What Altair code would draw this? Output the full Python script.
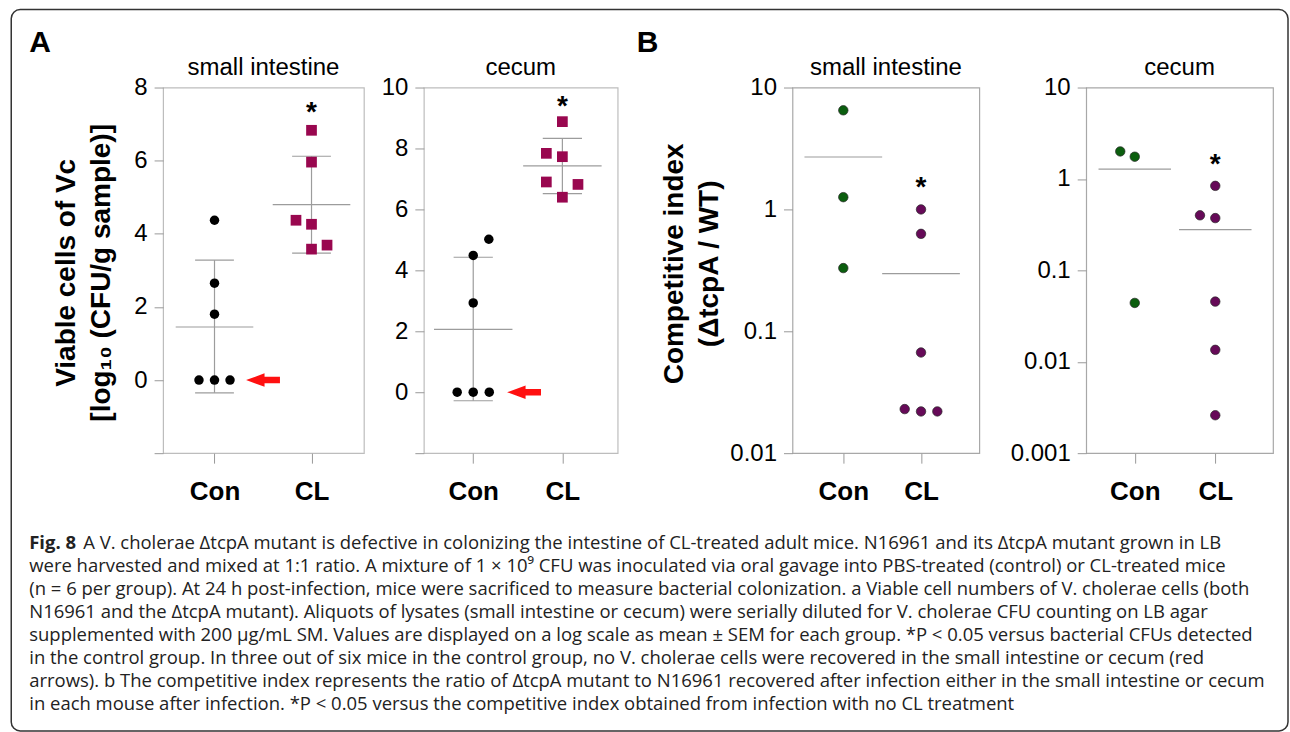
import altair as alt
import pandas as pd

# ---------------- data ----------------
groups = ["Con", "CL"]

# Panel A - small intestine (log10 CFU/g)
a_si_con = [0, 0, 0, 1.80, 2.65, 4.37]
a_si_con_jit = [-0.16, 0, 0.16, 0, 0, 0]
a_si_cl = [6.83, 5.96, 4.37, 4.26, 3.69, 3.58]
a_si_cl_jit = [0, 0, -0.16, 0, 0.16, 0]
a_si_mean = [1.45, 4.80]
a_si_lo = [-0.35, 3.47]
a_si_hi = [3.28, 6.12]
a_si_star = 7.5
a_si_arrow = [1.5, 0]

# Panel A - cecum
a_ce_con = [0, 0, 0, 2.93, 4.49, 5.02]
a_ce_con_jit = [-0.18, 0, 0.18, 0, 0, 0.175]
a_ce_cl = [8.88, 7.84, 7.73, 6.90, 6.82, 6.40]
a_ce_cl_jit = [0, -0.18, 0, -0.18, 0.175, 0]
a_ce_mean = [2.06, 7.43]
a_ce_lo = [-0.28, 6.52]
a_ce_hi = [4.43, 8.33]
a_ce_star = 9.6
a_ce_arrow = [1.57, 0]

# Panel B - small intestine (competitive index)
b_si_con = [6.5, 1.26, 0.33]
b_si_con_jit = [0, 0, 0]
b_si_cl = [1.0, 0.63, 0.067, 0.023, 0.022, 0.022]
b_si_cl_jit = [0, 0, 0, -0.21, 0, 0.21]
b_si_mean = [2.69, 0.297]
b_si_star = 1.71

# Panel B - cecum
b_ce_con = [2.0, 1.75, 0.044]
b_ce_con_jit = [-0.18, 0, 0]
b_ce_cl = [0.84, 0.40, 0.373, 0.0455, 0.0135, 0.0026]
b_ce_cl_jit = [0, -0.19, 0, 0, 0, 0]
b_ce_mean = [1.28, 0.279]
b_ce_star = 1.70

a_ticks_si = [-2, 0, 2, 4, 6, 8]
a_ticks_ce = [-2, 0, 2, 4, 6, 8, 10]
b_ticks_si = [0.01, 0.1, 1, 10]
b_ticks_ce = [0.001, 0.01, 0.1, 1, 10]

caption_head = "Fig. 8"
caption_first = "A V. cholerae \u0394tcpA mutant is defective in colonizing the intestine of CL-treated adult mice. N16961 and its \u0394tcpA mutant grown in LB"
caption_rest = [
    "were harvested and mixed at 1:1 ratio. A mixture of 1 \u00d7 10\u2079 CFU was inoculated via oral gavage into PBS-treated (control) or CL-treated mice",
    "(n = 6 per group). At 24 h post-infection, mice were sacrificed to measure bacterial colonization. a Viable cell numbers of V. cholerae cells (both",
    "N16961 and the \u0394tcpA mutant). Aliquots of lysates (small intestine or cecum) were serially diluted for V. cholerae CFU counting on LB agar",
    "supplemented with 200 \u03bcg/mL SM. Values are displayed on a log scale as mean \u00b1 SEM for each group. *P < 0.05 versus bacterial CFUs detected",
    "in the control group. In three out of six mice in the control group, no V. cholerae cells were recovered in the small intestine or cecum (red",
    "arrows). b The competitive index represents the ratio of \u0394tcpA mutant to N16961 recovered after infection either in the small intestine or cecum",
    "in each mouse after infection. *P < 0.05 versus the competitive index obtained from infection with no CL treatment",
]

FONT = "Liberation Sans"
CAP_FONT = "Open Sans"
CAP_SIZE = 18.5
H = 366
one = pd.DataFrame({"k": [0]})


def points_df(con, con_j, cl, cl_j):
    rows = [{"grp": groups[0], "x": 1 + j, "y": v} for v, j in zip(con, con_j)]
    rows += [{"grp": groups[1], "x": 2 + j, "y": v} for v, j in zip(cl, cl_j)]
    return pd.DataFrame(rows)


def rules_df(mean, mean_hw, lo=None, hi=None, cap_hw=0.2):
    rows = []
    for i in range(2):
        g = i + 1
        rows.append({"x": g - mean_hw, "x2": g + mean_hw, "y": mean[i], "y2": mean[i]})
        if lo is not None:
            rows.append({"x": g, "x2": g, "y": lo[i], "y2": hi[i]})
            rows.append({"x": g - cap_hw, "x2": g + cap_hw, "y": lo[i], "y2": lo[i]})
            rows.append({"x": g - cap_hw, "x2": g + cap_hw, "y": hi[i], "y2": hi[i]})
    return pd.DataFrame(rows)


def make_panel(title, width, xdom, ydom, yticks, log, pts, rules, star,
               colors, shapes, sizes, frame_color, ytitle=None, ytitle_x=0,
               ytitle_y=183, arrow=None, extra=None, pt_stroke=None):
    xs = alt.Scale(domain=xdom, nice=False, zero=False)
    if log:
        ys = alt.Scale(type="log", domain=ydom, nice=False)
    else:
        ys = alt.Scale(domain=ydom, nice=False, zero=False)
    xaxis = alt.Axis(
        values=[1, 2],
        labelExpr=f"datum.value == 1 ? '{groups[0]}' : '{groups[1]}'",
        title="", grid=False, domain=False, tickSize=10, tickColor="#999999",
        labelPadding=15, labelFont=FONT, labelFontSize=26, labelFontWeight="bold",
        labelColor="black",
    )
    yk = dict(values=yticks, grid=False, domain=False, tickSize=9, tickColor="#999999",
              labelPadding=7, labelFont=FONT, labelFontSize=24, labelColor="black")
    if log:
        yk["format"] = "~g"
    else:
        yk["labelExpr"] = "datum.value < 0 ? '' : datum.label"
    if ytitle:
        yk.update(title=ytitle, titleFont=FONT, titleFontSize=28, titleFontWeight="bold",
                  titleColor="black", titleAngle=270, titleBaseline="alphabetic",
                  titleAlign="center", titleX=ytitle_x, titleY=ytitle_y, titleLineHeight=35)
    else:
        yk["title"] = ""
    yaxis = alt.Axis(**yk)

    rule_layer = alt.Chart(rules).mark_rule(color="#9c9c9c", strokeWidth=1.2).encode(
        x=alt.X("x:Q", scale=xs, axis=xaxis), x2="x2:Q",
        y=alt.Y("y:Q", scale=ys, axis=yaxis), y2="y2:Q",
    )
    mk = dict(filled=True, opacity=1)
    if pt_stroke:
        mk.update(stroke=pt_stroke, strokeWidth=0.7)
    pt_layer = alt.Chart(pts).mark_point(**mk).encode(
        x=alt.X("x:Q", scale=xs, axis=xaxis),
        y=alt.Y("y:Q", scale=ys, axis=yaxis),
        color=alt.Color("grp:N", scale=alt.Scale(domain=groups, range=colors), legend=None),
        shape=alt.Shape("grp:N", scale=alt.Scale(domain=groups, range=shapes), legend=None),
        size=alt.Size("grp:N", scale=alt.Scale(domain=groups, range=sizes), legend=None),
    )
    star_layer = alt.Chart(pd.DataFrame({"x": [2], "y": [star]})).mark_text(
        text="*", font=FONT, fontSize=28, fontWeight="bold", color="black",
        baseline="middle", dy=7,
    ).encode(x=alt.X("x:Q", scale=xs, axis=xaxis), y=alt.Y("y:Q", scale=ys, axis=yaxis))
    title_layer = alt.Chart(one).mark_text(
        text=title, font=FONT, fontSize=24, color="black", align="center",
        baseline="alphabetic",
    ).encode(x=alt.value(width / 2), y=alt.value(-13))
    layers = []
    if extra:
        layers += extra
    layers += [title_layer, rule_layer, pt_layer, star_layer]
    if arrow is not None:
        arrow_path = "M-1,0L0.09,-0.4L0.09,-0.19L1,-0.19L1,0.19L0.09,0.19L0.09,0.4Z"
        layers.append(
            alt.Chart(pd.DataFrame({"x": [arrow[0]], "y": [arrow[1]]})).mark_point(
                shape=arrow_path, filled=True, color="#ff1010", size=1150, opacity=1
            ).encode(x=alt.X("x:Q", scale=xs, axis=xaxis), y=alt.Y("y:Q", scale=ys, axis=yaxis))
        )
    return alt.layer(*layers).properties(
        width=width, height=H,
        view=alt.ViewBackground(stroke=frame_color, strokeWidth=1.2),
    )


# decorations attached to the first panel (outer frame, caption, panel letters)
frame = alt.Chart(one).mark_rect(
    fillOpacity=0, stroke="#333333", strokeWidth=1.5, cornerRadius=9
).encode(x=alt.value(-152), x2=alt.value(1126), y=alt.value(-78), y2=alt.value(644))
cap_head = alt.Chart(one).mark_text(
    text=caption_head, align="left", baseline="alphabetic", font=CAP_FONT,
    fontSize=CAP_SIZE, fontWeight="bold", color="#222222",
).encode(x=alt.value(-134), y=alt.value(462))
cap_first = alt.Chart(one).mark_text(
    text=caption_first, align="left", baseline="alphabetic", font=CAP_FONT,
    fontSize=CAP_SIZE, color="#222222",
).encode(x=alt.value(-80), y=alt.value(462))
cap_rest = alt.Chart(one).mark_text(
    text=caption_rest, align="left", baseline="alphabetic", font=CAP_FONT,
    fontSize=CAP_SIZE, lineHeight=23, color="#222222",
).encode(x=alt.value(-134), y=alt.value(485))
letter_a = alt.Chart(one).mark_text(
    text="A", align="left", baseline="alphabetic", font=FONT, fontSize=30,
    fontWeight="bold", color="black",
).encode(x=alt.value(-134), y=alt.value(-36))
letter_b = alt.Chart(one).mark_text(
    text="B", align="left", baseline="alphabetic", font=FONT, fontSize=30,
    fontWeight="bold", color="black",
).encode(x=alt.value(-156), y=alt.value(-36))

A_COLORS = ["#000000", "#99074f"]
B_COLORS = ["#0b5e0e", "#660a58"]

p_a_si = make_panel(
    "small intestine", 201, [0.47, 2.54], [-2, 8], a_ticks_si, False,
    points_df(a_si_con, a_si_con_jit, a_si_cl, a_si_cl_jit),
    rules_df(a_si_mean, 0.4, a_si_lo, a_si_hi, 0.2), a_si_star,
    A_COLORS, ["circle", "square"], [90, 115], "#bdbdbd",
    ytitle=["Viable cells of Vc", "[log\u2081\u2080 (CFU/g sample)]"], ytitle_x=-89, ytitle_y=185,
    arrow=a_si_arrow, extra=[frame, cap_head, cap_first, cap_rest, letter_a],
)
p_a_ce = make_panel(
    "cecum", 194, [0.446, 2.62], [-2, 10], a_ticks_ce, False,
    points_df(a_ce_con, a_ce_con_jit, a_ce_cl, a_ce_cl_jit),
    rules_df(a_ce_mean, 0.44, a_ce_lo, a_ce_hi, 0.22), a_ce_star,
    A_COLORS, ["circle", "square"], [90, 115], "#bdbdbd",
    arrow=a_ce_arrow,
)
p_b_si = make_panel(
    "small intestine", 187, [0.346, 2.75], [0.01, 10], b_ticks_si, True,
    points_df(b_si_con, b_si_con_jit, b_si_cl, b_si_cl_jit),
    rules_df(b_si_mean, 0.5), b_si_star,
    B_COLORS, ["circle", "circle"], [90, 90], "#a8a8a8",
    ytitle=["Competitive index", "(\u0394tcpA / WT)"], ytitle_x=-110, ytitle_y=176,
    extra=[letter_b], pt_stroke="#2a2a2a",
)
p_b_ce = make_panel(
    "cecum", 187, [0.397, 2.717], [0.001, 10], b_ticks_ce, True,
    points_df(b_ce_con, b_ce_con_jit, b_ce_cl, b_ce_cl_jit),
    rules_df(b_ce_mean, 0.45), b_ce_star,
    B_COLORS, ["circle", "circle"], [90, 90], "#a8a8a8", pt_stroke="#2a2a2a",
)


def spacer(w):
    return alt.Chart(one).mark_point(opacity=0).encode(
        x=alt.value(0), y=alt.value(0)
    ).properties(width=w, height=H, view=alt.ViewBackground(stroke="transparent"))


chart = alt.hconcat(
    p_a_si, spacer(60), p_a_ce, spacer(175), p_b_si, spacer(107), p_b_ce,
    spacing=0, bounds="flush",
).resolve_scale(
    x="independent", y="independent", color="independent",
    shape="independent", size="independent",
).properties(
    padding={"left": 9.25, "top": 7.25, "right": 0, "bottom": 0},
    background="white",
)

chart.save("out.html", embed_options={"renderer": "svg", "actions": False})
